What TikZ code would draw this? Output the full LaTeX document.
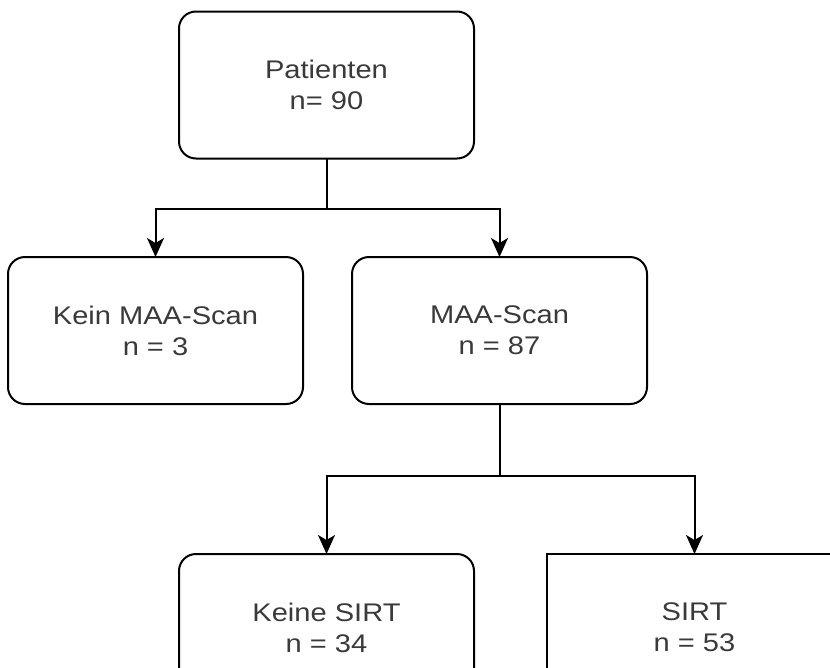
\documentclass[tikz,border=0pt]{standalone}
\usepackage{fontspec}
\setmainfont{Liberation Sans}[FakeStretch=1.14]
\usetikzlibrary{arrows.meta}
\definecolor{txtgray}{HTML}{3A3A3A}
\tikzset{
  box/.style={draw=black, line width=2pt, fill=white, minimum width=295pt, minimum height=147pt,
    inner sep=0pt, outer sep=0pt, align=center, text=txtgray,
    font=\fontsize{25.5}{31}\selectfont},
  rbox/.style={box, rounded corners=17pt},
  conn/.style={draw=black, line width=2pt},
  arr/.style={conn, -{Stealth[length=19pt,width=17pt,inset=5pt]}}
}
\begin{document}
\begin{tikzpicture}[x=1pt,y=-1pt]
\useasboundingbox (0,0) rectangle (830,667);
\clip (0,0) rectangle (830,667);
\node[rbox] (pat) at (326.5,85) {Patienten\\n= 90};
\node[rbox] (kein) at (155.5,330.5) {Kein MAA-Scan\\n = 3};
\node[rbox] (maa) at (499.5,330.5) {MAA-Scan\\n = 87};
\node[rbox] (keine) at (326.5,627.5) {Keine SIRT\\n = 34};
\node[box] (sirt) at (694.5,627.5) {SIRT\\n = 53};
\draw[conn] (pat.south) -- ++(0,50) coordinate (j1);
\draw[arr] (j1) -| (kein.north);
\draw[arr] (j1) -| (maa.north);
\draw[conn] (maa.south) -- ++(0,72) coordinate (j2);
\draw[arr] (j2) -| (keine.north);
\draw[arr] (j2) -| (sirt.north);
\end{tikzpicture}
\end{document}
